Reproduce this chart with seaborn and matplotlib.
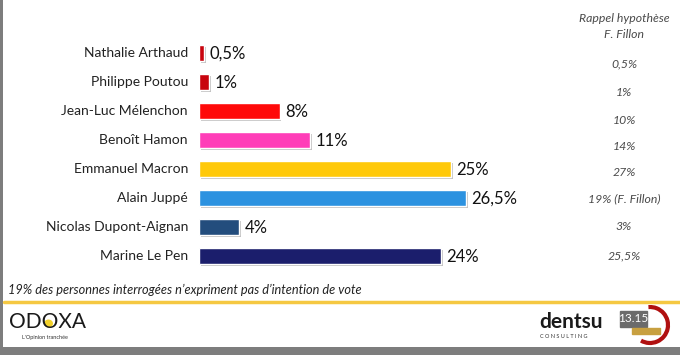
import matplotlib
matplotlib.use("Agg")
import matplotlib.pyplot as plt
import seaborn as sns
import pandas as pd
from matplotlib.patches import Rectangle, Arc, Ellipse
from matplotlib.lines import Line2D
import matplotlib.patheffects as pe

candidates = ["Nathalie Arthaud", "Philippe Poutou", "Jean-Luc Mélenchon", "Benoît Hamon",
              "Emmanuel Macron", "Alain Juppé", "Nicolas Dupont-Aignan", "Marine Le Pen"]
values = [0.5, 1, 8, 11, 25, 26.5, 4, 24]
value_labels = ["0,5%", "1%", "8%", "11%", "25%", "26,5%", "4%", "24%"]
fillon_labels = ["0,5%", "1%", "10%", "14%", "27%", "19% (F. Fillon)", "3%", "25,5%"]
colors = ["#C8040E", "#C8040E", "#FF0A0A", "#FF3DB8", "#FFC90A", "#2C92E0", "#234D7D", "#1B1E6C"]

sns.set_theme(style="white")
plt.rcParams['font.family'] = ['Lato', 'DejaVu Sans']

W, H = 680, 355
fig = plt.figure(figsize=(W / 100, H / 100), dpi=100)
fig.patch.set_facecolor("white")

def fx(px):
    return px / W

def fy(py):
    return 1 - py / H

# bar axes: x 199 -> 1% = 10.08 px ; rows centered 53..256
ax_left, ax_top, ax_bottom = 199, 38.5, 270.5
xmax = 30
ax = fig.add_axes([fx(ax_left), fy(ax_bottom), 10.08 * xmax / W, (ax_bottom - ax_top) / H])
df = pd.DataFrame({"cand": candidates, "val": values})
sns.barplot(data=df, x="val", y="cand", hue="cand", palette=colors, orient="h",
            width=0.56, legend=False, ax=ax, saturation=1)
for p in ax.patches:
    p.set_path_effects([pe.SimplePatchShadow(offset=(1.2, -1.5), shadow_rgbFace="#9a9a9a", alpha=0.6),
                        pe.Normal()])
ax.set_xlim(0, xmax)
ax.set_ylim(7.5, -0.5)
ax.set_xlabel("")
ax.set_ylabel("")
ax.set_xticks([])
ax.set_yticks([])
for s in ax.spines.values():
    s.set_visible(False)
ax.patch.set_alpha(0)

for i, (v, lab) in enumerate(zip(values, value_labels)):
    ax.text(v + 0.55, i + 0.03, lab, va="center", ha="left", fontsize=12, color="#111111")

# candidate names
for i, name in enumerate(candidates):
    ax.text(-1.1, i, name, va="center", ha="right", fontsize=10, color="#222222")

# right column
rc_x = 624
rc_style = dict(ha="center", va="center", fontsize=8.8, style="italic", color="#4a4a4a")
fig.text(fx(rc_x), fy(19), "Rappel hypothèse", **rc_style)
fig.text(fx(rc_x), fy(35), "F. Fillon", **rc_style)
rc_rows_px = [64, 92, 120, 146, 172, 199, 227, 256]
for yc, lab in zip(rc_rows_px, fillon_labels):
    fig.text(fx(rc_x), fy(yc), lab, **rc_style)

# footnote
fig.text(fx(8), fy(290), "19% des personnes interrogées n’expriment pas d’intention de vote",
         ha="left", va="center", fontsize=9.2, style="italic", color="#222222")

# yellow separator
fig.add_artist(Line2D([fx(4), 1], [fy(302), fy(302)], color="#F5C842", lw=2.5))

# ODOXA logo with yellow centre in the second O
fig.add_artist(Ellipse((fx(48.5), fy(323.5)), 9 / W, 8 / H, transform=fig.transFigure,
                       color="#F2D12A", lw=0))
fig.text(fx(9), fy(322), "ODOXA", ha="left", va="center", fontsize=15, color="#1a1a1a")
fig.text(fx(22), fy(338), "L'Opinion tranchée", ha="left", va="center", fontsize=4, color="#333333")

# dentsu logo
fig.text(fx(539), fy(322), "dentsu", ha="left", va="center", fontsize=15, fontweight="bold",
         color="#1a1a1a")
fig.text(fx(540), fy(336), "C O N S U L T I N G", ha="left", va="center", fontsize=4,
         color="#333333")

# 13.15 logo
logo = fig.add_axes([fx(615), fy(347), 60 / W, 42 / H])
logo.set_xlim(0, 60)
logo.set_ylim(0, 42)
logo.axis("off")
logo.add_patch(Arc((35, 22), 36, 36, theta1=-120, theta2=95, color="#B01010", lw=3))
logo.add_patch(Rectangle((5, 20), 27, 16, color="#6b6b6b"))
logo.text(18.5, 28, "13.15", ha="center", va="center", fontsize=8.5, color="white")
logo.add_patch(Rectangle((17, 13), 28, 6, color="#C8A040"))

# gray frame
fig.add_artist(Rectangle((0, 0), fx(3), 1, transform=fig.transFigure, color="#7d7d7d", lw=0))
fig.add_artist(Rectangle((0, 0), 1, 8 / H, transform=fig.transFigure, color="#7d7d7d", lw=0))

fig.savefig("out.png", dpi=100)
